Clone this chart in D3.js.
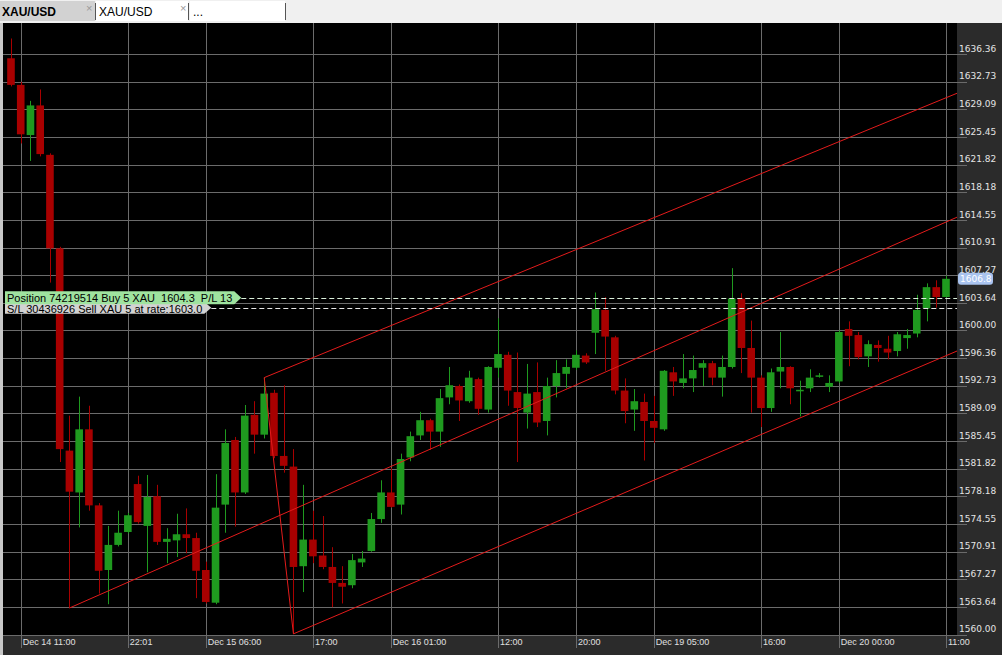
<!DOCTYPE html>
<html>
<head>
<meta charset="utf-8">
<script src="https://cdn.jsdelivr.net/npm/d3@7"></script>
<style>
  html, body { margin: 0; padding: 0; background: #f0f0f0; overflow: hidden; }
  svg { display: block; }
  .sans { font-family: "Liberation Sans", Arial, sans-serif; }
  .verd { font-family: "DejaVu Sans", Verdana, sans-serif; }
</style>
</head>
<body>
<svg id="chart" width="1002" height="655"></svg>
<script>
// ---- XAU/USD hourly candles, Dec 14 10:00 .. Dec 20 11:00 ----
const opens = [
  1635.8, 1632.3, 1625.7, 1629.6, 1623.1, 1610.8, 1584.2, 1578.7, 1587.0, 1577.0,
  1568.5, 1571.8, 1573.5, 1579.8, 1574.3, 1578.2, 1572.2, 1572.4, 1573.2, 1572.7,
  1568.5, 1564.2, 1577.1, 1585.6, 1578.7, 1588.9, 1586.3, 1591.8, 1583.5, 1582.1,
  1569.0, 1572.5, 1570.4, 1568.9, 1566.8, 1566.5, 1569.5, 1571.0, 1575.2, 1578.7,
  1577.1, 1583.3, 1586.2, 1588.2, 1586.7, 1591.2, 1592.7, 1590.7, 1593.6, 1589.6,
  1595.1, 1596.8, 1591.9, 1589.2, 1591.9, 1588.1, 1592.7, 1594.3, 1595.1, 1596.7,
  1599.7, 1602.7, 1599.1, 1592.1, 1589.6, 1590.6, 1588.1, 1587.0, 1594.5, 1593.1,
  1593.7, 1595.1, 1595.7, 1593.8, 1595.2, 1604.2, 1597.7, 1593.8, 1589.8, 1594.6,
  1595.2, 1592.0, 1592.4, 1593.9, 1592.6, 1593.3, 1600.2, 1599.4, 1596.6, 1598.1,
  1597.6, 1597.3, 1599.0, 1599.6, 1602.9, 1605.7, 1604.4
];
const highs = [
  1638.4, 1632.7, 1630.2, 1631.7, 1623.3, 1611.0, 1588.8, 1591.3, 1590.1, 1577.3,
  1574.3, 1576.3, 1576.0, 1580.9, 1581.0, 1579.7, 1574.0, 1575.9, 1576.6, 1573.4,
  1569.6, 1581.1, 1587.0, 1586.0, 1590.2, 1590.7, 1593.8, 1592.2, 1592.8, 1584.4,
  1579.7, 1576.3, 1575.6, 1571.5, 1569.0, 1570.6, 1571.0, 1576.0, 1580.3, 1581.9,
  1583.8, 1586.7, 1589.3, 1588.4, 1592.3, 1595.2, 1592.9, 1594.7, 1593.8, 1595.3,
  1601.6, 1597.2, 1597.1, 1595.6, 1595.8, 1593.8, 1596.1, 1596.2, 1597.4, 1597.0,
  1605.0, 1604.4, 1599.3, 1593.7, 1592.3, 1591.7, 1591.4, 1594.8, 1595.2, 1596.9,
  1596.7, 1596.1, 1596.0, 1596.7, 1608.2, 1604.9, 1601.3, 1594.1, 1595.0, 1599.8,
  1595.3, 1593.4, 1594.9, 1594.4, 1594.1, 1600.0, 1601.2, 1599.8, 1598.7, 1598.7,
  1599.3, 1599.8, 1600.2, 1604.7, 1606.2, 1606.6, 1607.2
];
const lows = [
  1632.1, 1624.6, 1622.3, 1622.9, 1606.3, 1582.7, 1563.5, 1574.1, 1576.3, 1565.4,
  1564.0, 1571.6, 1573.3, 1574.6, 1568.2, 1571.8, 1569.4, 1570.2, 1570.7, 1564.8,
  1564.1, 1564.0, 1573.4, 1574.2, 1578.5, 1583.8, 1585.8, 1583.2, 1581.3, 1560.1,
  1565.6, 1569.4, 1568.6, 1563.6, 1564.1, 1566.1, 1568.9, 1570.9, 1574.7, 1576.7,
  1575.8, 1582.8, 1585.6, 1584.3, 1584.7, 1590.3, 1588.1, 1590.5, 1588.9, 1589.2,
  1593.8, 1590.1, 1582.7, 1587.1, 1587.3, 1586.2, 1591.2, 1592.4, 1594.8, 1595.6,
  1596.9, 1594.7, 1591.6, 1587.8, 1586.8, 1582.9, 1585.2, 1586.8, 1591.4, 1592.4,
  1591.9, 1592.7, 1592.8, 1591.3, 1595.0, 1594.4, 1589.2, 1587.3, 1589.3, 1592.4,
  1590.3, 1588.7, 1591.9, 1593.8, 1591.9, 1593.1, 1595.3, 1596.2, 1595.2, 1595.9,
  1596.2, 1596.6, 1597.6, 1599.1, 1601.2, 1603.0, 1604.3
];
const closes = [
  1632.3, 1625.8, 1629.6, 1623.2, 1610.8, 1584.4, 1578.8, 1587.0, 1577.0, 1568.4,
  1571.8, 1573.4, 1575.7, 1574.8, 1578.1, 1572.2, 1572.6, 1573.2, 1572.7, 1568.4,
  1564.3, 1576.7, 1585.2, 1578.7, 1588.8, 1586.3, 1591.7, 1583.5, 1582.2, 1568.9,
  1572.5, 1570.3, 1568.9, 1566.8, 1566.3, 1569.8, 1570.0, 1575.2, 1578.7, 1576.8,
  1583.1, 1586.1, 1588.2, 1586.7, 1591.1, 1592.8, 1590.8, 1593.8, 1589.7, 1595.2,
  1596.9, 1592.1, 1589.8, 1591.7, 1587.9, 1592.7, 1594.4, 1595.2, 1596.8, 1595.8,
  1602.8, 1599.2, 1592.1, 1589.4, 1590.7, 1588.1, 1587.2, 1594.7, 1593.3, 1593.7,
  1594.8, 1595.7, 1593.8, 1595.2, 1604.2, 1597.7, 1593.8, 1589.8, 1594.5, 1595.2,
  1592.4, 1592.2, 1593.8, 1594.1, 1593.1, 1599.8, 1599.3, 1596.5, 1598.2, 1597.7,
  1597.1, 1599.5, 1599.4, 1602.7, 1605.7, 1604.4, 1606.8
];

// time axis: bar index of each labelled hour
const timeTickIndex = [1, 12, 20, 31, 39, 50, 58, 66, 77, 85, 96];
const timeLabels = ["Dec 14 11:00", "22:01", "Dec 15 06:00", "17:00", "Dec 16 01:00",
                    "12:00", "20:00", "Dec 19 05:00", "16:00", "Dec 20 00:00", "11:00"];

// price axis ticks
const priceTicks = [1560.00, 1563.64, 1567.27, 1570.91, 1574.55, 1578.18, 1581.82,
  1585.45, 1589.09, 1592.73, 1596.36, 1600.00, 1603.64, 1607.27, 1610.91, 1614.55,
  1618.18, 1621.82, 1625.45, 1629.09, 1632.73, 1636.36];

const lastPrice = 1606.8;

// drawn channel lines, [bar index, price] end points
const channelUpper  = [[26, 1593.8], [97.13, 1631.2]];
const channelMiddle = [[6, 1563.5], [97.13, 1614.9]];
const channelLower  = [[29, 1560.1], [97.13, 1597.3]];
const channelLink   = [[26, 1593.8], [29, 1560.1]];

// open orders
const positionPrice = 1604.3;
const positionText = "Position 74219514 Buy 5 XAU  1604.3  P/L 13";
const stopPrice = 1603.0;
const stopText = "S/L 30436926 Sell XAU 5 at rate:1603.0";

const tabLabels = ["XAU/USD", "XAU/USD", "..."];

// ---- layout ----
const W = 1002, H = 655;
const plot = { left: 3, top: 23, right: 957, bottom: 636 };
const UP = "#1f9a1f", DOWN = "#a80000", GRID = "#6b6b6b";

const svg = d3.select("#chart");

const x = d3.scaleLinear().domain([-0.82, 97.13]).range([plot.left, plot.right]);
const y = d3.scaleLinear().domain([1559.82, 1640.44]).range([plot.bottom, plot.top]);

const candles = opens.map((o, i) => ({ i, o, h: highs[i], l: lows[i], c: closes[i] }));

// frame and panels
svg.append("rect").attr("width", W).attr("height", H).attr("fill", "#c8c8c8");
svg.append("rect").attr("width", W).attr("height", plot.top).attr("fill", "#f0f0f0");
svg.append("rect").attr("x", plot.left).attr("y", plot.top)
  .attr("width", W - plot.left).attr("height", H - plot.top).attr("fill", "#2b2b2b");
svg.append("rect").attr("x", plot.left).attr("y", plot.top)
  .attr("width", plot.right - plot.left).attr("height", plot.bottom - plot.top).attr("fill", "#000");

// tabs
const tabs = svg.append("g").attr("class", "sans");
const tabBoxes = [[0, 95, "#d2d2d2"], [96, 188, "#ffffff"], [190, 285, "#ffffff"]];
tabBoxes.forEach(([a, b, f]) => {
  tabs.append("rect").attr("x", a).attr("y", 1).attr("width", b - a).attr("height", 20).attr("fill", f);
});
tabs.append("text").attr("x", 2).attr("y", 16).attr("font-size", 12).attr("font-weight", "bold")
  .attr("fill", "#000").text(tabLabels[0]);
tabs.append("text").attr("x", 99).attr("y", 16).attr("font-size", 12)
  .attr("fill", "#000").text(tabLabels[1]);
tabs.append("text").attr("x", 193).attr("y", 16).attr("font-size", 12)
  .attr("fill", "#000").text(tabLabels[2]);
[86, 180].forEach(cx => tabs.append("text").attr("x", cx).attr("y", 12).attr("font-size", 11)
  .attr("fill", "#999").text("\u00d7"));
[95.5, 188.5, 285.5].forEach(lx => tabs.append("line").attr("x1", lx).attr("x2", lx)
  .attr("y1", 3).attr("y2", 20).attr("stroke", "#555"));

// grid
const grid = svg.append("g").attr("shape-rendering", "crispEdges");
grid.selectAll(".hg").data(priceTicks).join("line")
  .attr("x1", plot.left).attr("x2", plot.right)
  .attr("y1", d => Math.round(y(d)) + 0.5).attr("y2", d => Math.round(y(d)) + 0.5)
  .attr("stroke", GRID);
grid.selectAll(".vg").data(timeTickIndex).join("line")
  .attr("x1", d => Math.round(x(d)) + 0.5).attr("x2", d => Math.round(x(d)) + 0.5)
  .attr("y1", plot.top).attr("y2", plot.bottom)
  .attr("stroke", GRID);

// axes
const yAxis = d3.axisRight(y).tickValues(priceTicks).tickSize(10).tickFormat(d3.format(".2f"));
const gy = svg.append("g").attr("class", "verd").attr("transform", `translate(${plot.right},0)`).call(yAxis);
gy.select(".domain").remove();
gy.selectAll(".tick line").attr("stroke", GRID).attr("shape-rendering", "crispEdges");
gy.selectAll(".tick text").attr("x", 2).attr("dy", -2.8).attr("fill", "#e4e4e4")
  .attr("font-size", 9).attr("font-family", "DejaVu Sans, Verdana, sans-serif");

const xAxis = d3.axisBottom(x).tickValues(timeTickIndex).tickSize(12)
  .tickFormat((d, k) => timeLabels[k]);
const gx = svg.append("g").attr("transform", `translate(0,${plot.bottom})`).call(xAxis);
gx.select(".domain").remove();
gx.selectAll(".tick line").attr("stroke", GRID).attr("shape-rendering", "crispEdges");
gx.selectAll(".tick text").attr("x", 1.5).attr("y", 9).attr("dy", 0)
  .attr("text-anchor", "start").attr("fill", "#e0e0e0")
  .attr("font-size", 9).attr("font-family", "Liberation Sans, Arial, sans-serif");

// candles
svg.append("clipPath").attr("id", "plotClip").append("rect")
  .attr("x", plot.left).attr("y", plot.top)
  .attr("width", plot.right - plot.left).attr("height", plot.bottom - plot.top);
const body = svg.append("g").attr("clip-path", "url(#plotClip)");
const bw = 7.6;
body.selectAll(".wick").data(candles).join("line")
  .attr("x1", d => Math.round(x(d.i)) + 0.5).attr("x2", d => Math.round(x(d.i)) + 0.5)
  .attr("y1", d => y(d.h)).attr("y2", d => y(d.l))
  .attr("stroke", d => d.c >= d.o ? UP : DOWN).attr("stroke-width", 1);
body.selectAll(".bar").data(candles).join("rect")
  .attr("x", d => x(d.i) - bw / 2).attr("width", bw)
  .attr("y", d => y(Math.max(d.o, d.c)))
  .attr("height", d => Math.max(1.5, Math.abs(y(d.o) - y(d.c))))
  .attr("fill", d => d.c >= d.o ? UP : DOWN);

// channel lines
const line = d3.line().x(d => x(d[0])).y(d => y(d[1]));
[channelUpper, channelMiddle, channelLower, channelLink].forEach(seg => {
  body.append("path").attr("d", line(seg)).attr("fill", "none")
    .attr("stroke", "#e31b1b").attr("stroke-width", 1);
});

// order tags with dashed price lines; the later tag is drawn over the earlier one
function orderTag(price, text, fill, dash, textDy, h) {
  const cy = y(price);
  const g = svg.append("g").attr("clip-path", "url(#plotClip)");
  const t = g.append("text").attr("class", "sans").attr("x", 7).attr("y", cy + textDy)
    .attr("font-size", 11).attr("fill", "#000").style("white-space", "pre").text(text);
  const tw = t.node().getComputedTextLength();
  const r = 7 + tw + 2, tip = r + 7;
  g.insert("path", "text")
    .attr("d", `M5,${cy - h / 2}H${r}L${tip},${cy}L${r},${cy + h / 2}H5Z`)
    .attr("fill", fill);
  g.append("line").attr("x1", tip).attr("x2", plot.right)
    .attr("y1", Math.round(cy) + 0.5).attr("y2", Math.round(cy) + 0.5)
    .attr("stroke", dash).attr("stroke-dasharray", "5,3");
}
orderTag(stopPrice, stopText, "#d2d2d2", "#e6e6e6", 5, 12);
orderTag(positionPrice, positionText, "#9fe39f", "#dcf0dc", 4, 13);

// last price badge
const lp = svg.append("g").attr("class", "verd");
lp.append("rect").attr("x", 958).attr("y", y(lastPrice) - 6).attr("width", 35).attr("height", 12)
  .attr("rx", 3).attr("fill", "#a9c3ef");
lp.append("text").attr("x", 960).attr("y", y(lastPrice) + 3.5).attr("font-size", 9)
  .attr("fill", "#ffffff").text(lastPrice.toFixed(1));
</script>
</body>
</html>
